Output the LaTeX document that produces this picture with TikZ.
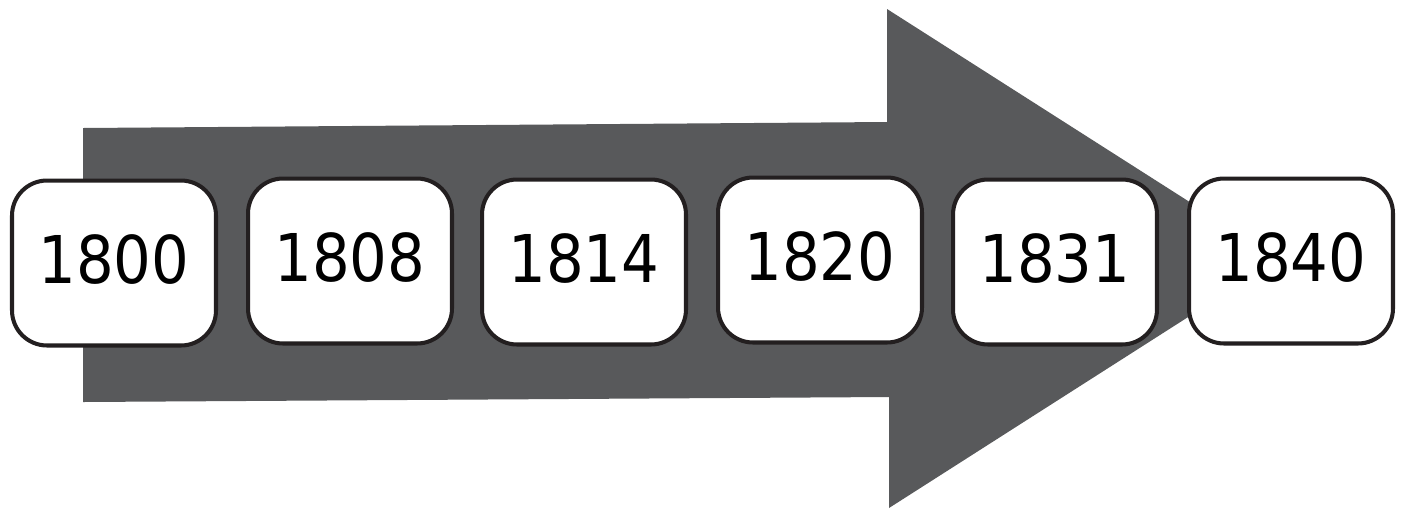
\documentclass[tikz,border=0pt]{standalone}
\usepackage{fontspec}
\setmainfont{DejaVu Sans Condensed}
\definecolor{arrowgrey}{RGB}{88,89,91}
\definecolor{boxline}{RGB}{35,31,32}
\tikzset{
  yearbox/.style={draw=boxline, line width=2.3pt, fill=white, rounded corners=0.7cm,
    minimum width=4.08cm, minimum height=3.3cm, inner sep=0pt, text depth=0.16cm,
    font=\fontsize{37.5}{40}\selectfont}
}
\begin{document}
\begin{tikzpicture}[x=0.02cm,y=-0.02cm]
  \useasboundingbox (0,0) rectangle (1405,508);
  % the big arrow behind the years
  \fill[arrowgrey] (83,128) -- (887,122) -- (887,9) -- (1279,259)
    -- (889,508) -- (889,397) -- (83,402) -- cycle;
  % year boxes
  \foreach \x/\y/\yr in {114/263/1800, 350/261/1808, 584/262/1814,
                         820/260/1820, 1055/262/1831, 1291/261/1840}
    \node[yearbox] (y\yr) at (\x,\y) {\yr};
\end{tikzpicture}
\end{document}
